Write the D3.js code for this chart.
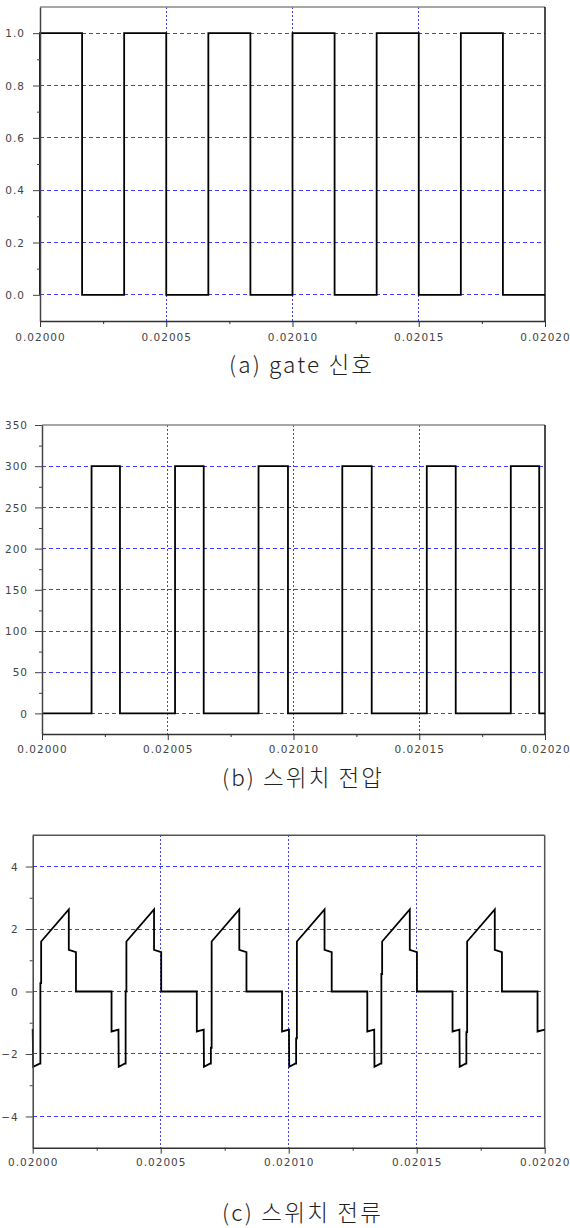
<!DOCTYPE html>
<html>
<head>
<meta charset="utf-8">
<script src="https://cdn.jsdelivr.net/npm/d3@7"></script>
<style>
  body { margin: 0; background: #fff; }
  .tick text { font-family: "DejaVu Sans", sans-serif; font-size: 10.5px; fill: #444; letter-spacing: 1px; }
  .caption { font-family: "Noto Sans CJK KR", sans-serif; font-size: 22.5px; font-weight: 300; fill: #222; }
  .grid { shape-rendering: crispEdges; }
</style>
</head>
<body>
<div id="chart"></div>
<script>
// time axis (seconds), traces are stored in microseconds after T0
var T0 = 0.02;
var xTickValues = [0.02, 0.02005, 0.0201, 0.02015, 0.0202];
var xGridValues = [0.02005, 0.0201, 0.02015];
var xMinorValues = [0.020025, 0.020075, 0.020125, 0.020175];

// (a) gate signal
var gateTicks = [0, 0.2, 0.4, 0.6, 0.8, 1.0];
var gateMinor = [0.1, 0.3, 0.5, 0.7, 0.9];
var gateUs = [0, 0, 16.67, 16.67, 33.33, 33.33, 50, 50, 66.67, 66.67, 83.33, 83.33,
  100, 100, 116.67, 116.67, 133.33, 133.33, 150, 150, 166.67, 166.67, 183.33, 183.33, 200];
var gateVal = [0, 1, 1, 0, 0, 1, 1, 0, 0, 1, 1, 0,
  0, 1, 1, 0, 0, 1, 1, 0, 0, 1, 1, 0, 0];

// (b) switch voltage
var voltTicks = [0, 50, 100, 150, 200, 250, 300, 350];
var voltGrid = [0, 50, 100, 150, 200, 250, 300];
var voltMinor = [25, 75, 125, 175, 225, 275, 325];
var voltUs = [0, 19.7, 19.7, 31.0, 31.0, 52.9, 52.9, 64.3, 64.3, 86.1, 86.1, 97.8, 97.8,
  119.4, 119.4, 131.1, 131.1, 153.0, 153.0, 164.5, 164.5, 186.4, 186.4, 197.7, 197.7, 200];
var voltVal = [0, 0, 300, 300, 0, 0, 300, 300, 0, 0, 300, 300, 0,
  0, 300, 300, 0, 0, 300, 300, 0, 0, 300, 300, 0, 0];

// (c) switch current
var currTicks = [-4, -2, 0, 2, 4];
var currMinor = [-3, -1, 1, 3];
var currUs = [0, 0.2, 2.7,
  3.0, 3.0, 3.3, 3.3, 14.1, 14.1, 16.9, 16.9, 30.8, 30.8, 33.5, 33.6, 35.9,
  36.3, 36.3, 36.6, 36.6, 47.4, 47.4, 50.2, 50.2, 64.1, 64.1, 66.8, 66.9, 69.2,
  69.6, 69.6, 69.9, 69.9, 80.7, 80.7, 83.5, 83.5, 97.4, 97.4, 100.1, 100.2, 102.5,
  102.9, 102.9, 103.2, 103.2, 114.0, 114.0, 116.8, 116.8, 130.7, 130.7, 133.4, 133.5, 135.8,
  136.2, 136.2, 136.5, 136.5, 147.3, 147.3, 150.1, 150.1, 164.0, 164.0, 166.7, 166.8, 169.1,
  169.4, 169.4, 169.7, 169.7, 180.5, 180.5, 183.3, 183.3, 197.2, 197.2, 200];
var currVal = [-1.2, -2.41, -2.31,
  -2.31, 0.27, 0.27, 1.6, 2.63, 1.33, 1.26, 0, 0, -1.28, -1.22, -2.41, -2.31,
  -2.31, 0, 0, 1.6, 2.63, 1.33, 1.26, 0, 0, -1.28, -1.22, -2.41, -2.31,
  -2.31, -1.8, -1.8, 1.6, 2.63, 1.33, 1.26, 0, 0, -1.28, -1.22, -2.41, -2.31,
  -2.31, -1.5, -1.5, 1.6, 2.63, 1.33, 1.26, 0, 0, -1.28, -1.22, -2.41, -2.31,
  -2.31, 0.56, 0.56, 1.6, 2.63, 1.33, 1.26, 0, 0, -1.28, -1.22, -2.41, -2.31,
  -2.31, -1.3, -1.3, 1.6, 2.63, 1.33, 1.26, 0, 0, -1.28, -1.22];

var Width = 570;
var Height = 1228;

var svg = d3
  .select("#chart")
  .append("svg")
  .attr("width", Width)
  .attr("height", Height);

var gridColor = "#3d3dff";

function drawPanel(p) {
  var x = d3.scaleLinear().domain([0.02, 0.0202]).range([p.left, p.right]);
  var y = d3.scaleLinear().domain(p.yDomain).range([p.bottom, p.top]);
  var g = svg.append("g");

  // horizontal grid
  g.selectAll(".hgrid")
    .data(p.grid)
    .enter()
    .append("line")
    .attr("class", "grid")
    .attr("x1", p.left)
    .attr("x2", p.right)
    .attr("y1", function(d) { return y(d); })
    .attr("y2", function(d) { return y(d); })
    .attr("stroke", gridColor)
    .attr("stroke-width", 1)
    .attr("stroke-dasharray", "4,3");

  // vertical grid
  g.selectAll(".vgrid")
    .data(xGridValues)
    .enter()
    .append("line")
    .attr("class", "grid")
    .attr("x1", function(d) { return x(d); })
    .attr("x2", function(d) { return x(d); })
    .attr("y1", p.top)
    .attr("y2", p.bottom)
    .attr("stroke", gridColor)
    .attr("stroke-width", 1)
    .attr("stroke-dasharray", "2,2");

  // top and right frame
  g.append("line")
    .attr("x1", p.left).attr("x2", p.right)
    .attr("y1", p.top).attr("y2", p.top)
    .attr("stroke", p.topColor).attr("stroke-width", 1.5);
  g.append("line")
    .attr("x1", p.right).attr("x2", p.right)
    .attr("y1", p.top).attr("y2", p.bottom)
    .attr("stroke", p.rightColor).attr("stroke-width", 1.5);

  // trace
  var line = d3.line()
    .x(function(d) { return x(T0 + d[0] * 1e-6); })
    .y(function(d) { return y(d[1]); });
  g.append("path")
    .datum(d3.zip(p.us, p.val))
    .attr("d", line)
    .attr("fill", "none")
    .attr("stroke", "#000")
    .attr("stroke-width", 1.8)
    .attr("stroke-linejoin", "miter");

  // y axis
  var yAxis = d3.axisLeft(y)
    .tickValues(p.ticks)
    .tickSize(7)
    .tickSizeOuter(0)
    .tickPadding(p.yPad)
    .tickFormat(p.fmt);
  var ya = g.append("g")
    .attr("transform", "translate(" + p.left + ",0)")
    .call(yAxis);
  ya.select(".domain").attr("stroke", "#444").attr("stroke-width", 1.5);
  ya.selectAll(".tick line").attr("stroke", "#444");
  ya.selectAll(".tick text").attr("dy", "0.36em");

  var yMinor = d3.axisLeft(y).tickValues(p.minor).tickSize(3).tickFormat("");
  var ym = g.append("g")
    .attr("transform", "translate(" + p.left + ",0)")
    .call(yMinor);
  ym.select(".domain").remove();
  ym.selectAll(".tick line").attr("stroke", "#444");

  // x axis
  var xAxis = d3.axisBottom(x)
    .tickValues(xTickValues)
    .tickSize(6)
    .tickSizeOuter(0)
    .tickFormat(d3.format(".5f"));
  var xa = g.append("g")
    .attr("transform", "translate(0," + p.bottom + ")")
    .call(xAxis);
  xa.select(".domain").attr("stroke", "#333").attr("stroke-width", 1.5);
  xa.selectAll(".tick line").attr("stroke", "#333");
  xa.selectAll(".tick text").attr("y", p.xLabelY).attr("dy", 0);

  var xMinor = d3.axisBottom(x).tickValues(xMinorValues).tickSize(3).tickFormat("");
  var xm = g.append("g")
    .attr("transform", "translate(0," + p.bottom + ")")
    .call(xMinor);
  xm.select(".domain").remove();
  xm.selectAll(".tick line").attr("stroke", "#333");

  // caption
  svg.append("text")
    .attr("class", "caption")
    .attr("x", p.capX)
    .attr("y", p.capY)
    .attr("textLength", p.capW)
    .attr("lengthAdjust", "spacing")
    .text(p.caption);
}

drawPanel({
  left: 40, right: 545, top: 7, bottom: 321,
  yDomain: [-0.1, 1.1],
  ticks: gateTicks, grid: gateTicks, minor: gateMinor,
  fmt: d3.format(".1f"), yPad: 8, xLabelY: 20,
  topColor: "#888", rightColor: "#111",
  us: gateUs, val: gateVal,
  caption: "(a) gate 신호", capX: 229, capY: 373, capW: 143
});

drawPanel({
  left: 42, right: 545, top: 425, bottom: 734,
  yDomain: [-25, 350],
  ticks: voltTicks, grid: voltGrid, minor: voltMinor,
  fmt: d3.format("d"), yPad: 7, xLabelY: 18.5,
  topColor: "#888", rightColor: "#111",
  us: voltUs, val: voltVal,
  caption: "(b) 스위치 전압", capX: 222, capY: 786, capW: 160
});

drawPanel({
  left: 32.7, right: 544.7, top: 835.3, bottom: 1147.7,
  yDomain: [-5, 5],
  ticks: currTicks, grid: currTicks, minor: currMinor,
  fmt: d3.format("d"), yPad: 7, xLabelY: 18.8,
  topColor: "#555", rightColor: "#555",
  us: currUs, val: currVal,
  caption: "(c) 스위치 전류", capX: 222, capY: 1221, capW: 159
});
</script>
</body>
</html>
